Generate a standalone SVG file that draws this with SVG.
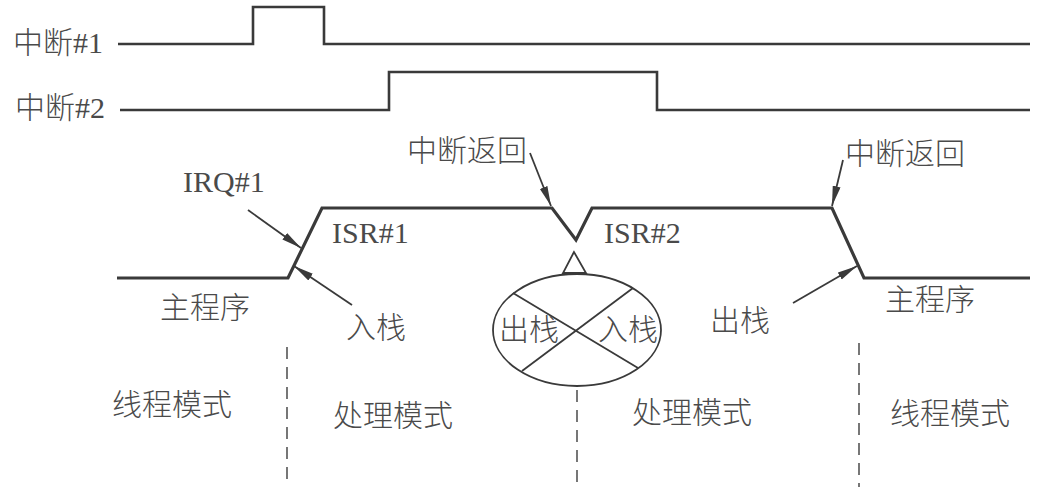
<svg xmlns="http://www.w3.org/2000/svg" width="1045" height="487" viewBox="0 0 1045 487">
  <style>
    .txt { font-family: "Liberation Serif", "Noto Sans CJK SC", serif; fill: #4a4a4a; font-size: 30px; font-weight: 300; }
    .sig { fill: none; stroke: #3a3a3a; stroke-width: 2.6; stroke-linejoin: miter; }
    .wave { fill: none; stroke: #3a3a3a; stroke-width: 3.2; stroke-linejoin: miter; }
    .ptr { fill: none; stroke: #3a3a3a; stroke-width: 1.8; marker-end: url(#tip); }
    .sep { fill: none; stroke: #555; stroke-width: 1.6; stroke-dasharray: 12 8; }
    .thin { fill: none; stroke: #3a3a3a; stroke-width: 1.8; }
  </style>
  <defs>
    <marker id="tip" markerUnits="userSpaceOnUse" markerWidth="22" markerHeight="10" refX="20" refY="4" orient="auto">
      <path d="M0,0 L20,4 L0,8 Z" fill="#3a3a3a"/>
    </marker>
  </defs>
  <rect width="1045" height="487" fill="#fff"/>

  <!-- interrupt request lines -->
  <g id="irq1-signal">
    <polyline class="sig" points="118,44 253,44 253,7 324,7 324,44 1030,44"/>
    <text class="txt" x="13" y="53" font-size="28">中断#1</text>
  </g>
  <g id="irq2-signal">
    <polyline class="sig" points="120,110 389,110 389,72 657,72 657,110 1030,110"/>
    <text class="txt" x="15" y="118" font-size="28">中断#2</text>
  </g>

  <!-- execution trace -->
  <g id="trace">
    <polyline class="wave" points="117,278 288,278 322,208 552,208 576,240 592,208 832,208 864,278 1030,278"/>
  </g>

  <g id="labels">
    <text class="txt" x="160" y="318">主程序</text>
    <text class="txt" x="332" y="243">ISR#1</text>
    <text class="txt" x="604" y="243">ISR#2</text>
    <text class="txt" x="885" y="310">主程序</text>
    <text class="txt" x="112" y="415">线程模式</text>
    <text class="txt" x="333" y="426">处理模式</text>
    <text class="txt" x="632" y="423">处理模式</text>
    <text class="txt" x="890" y="424">线程模式</text>
  </g>

  <!-- stack node under the tail-chain point -->
  <g id="stack-swap">
    <polygon class="thin" points="574,252 563,273 586,273"/>
    <ellipse class="thin" cx="577" cy="330" rx="84" ry="56"/>
    <line class="thin" x1="513" y1="293" x2="638" y2="368"/>
    <line class="thin" x1="633" y1="288" x2="522" y2="371"/>
    <text class="txt" x="499" y="340">出栈</text>
    <text class="txt" x="598" y="340">入栈</text>
  </g>

  <g id="callouts">
    <text class="txt" x="183" y="192">IRQ#1</text>
    <text class="txt" x="346" y="338">入栈</text>
    <text class="txt" x="407" y="161">中断返回</text>
    <text class="txt" x="845" y="164">中断返回</text>
    <text class="txt" x="710" y="331">出栈</text>
  </g>

  <g id="connectors">
    <line class="ptr" x1="248" y1="210" x2="301" y2="248"/>
    <line class="ptr" x1="352" y1="305" x2="294" y2="266"/>
    <line class="ptr" x1="530" y1="153" x2="551" y2="206"/>
    <line class="ptr" x1="843" y1="160" x2="832" y2="206"/>
    <line class="ptr" x1="793" y1="303" x2="857" y2="266"/>
    <line class="sep" x1="287" y1="347" x2="287" y2="487"/>
    <line class="sep" x1="577" y1="390" x2="577" y2="487"/>
    <line class="sep" x1="859" y1="343" x2="859" y2="487"/>
  </g>
</svg>
